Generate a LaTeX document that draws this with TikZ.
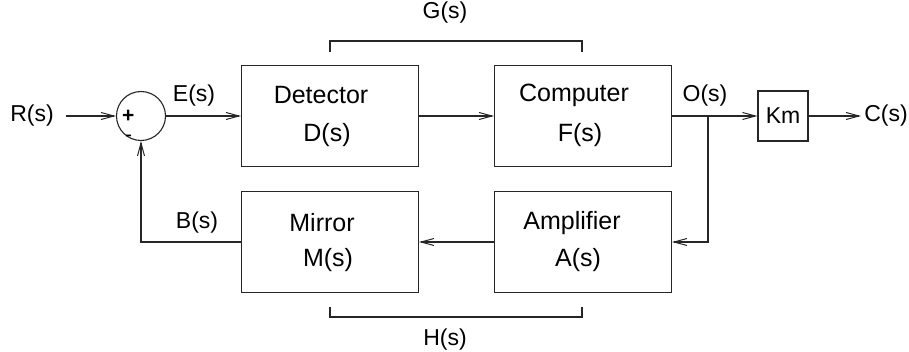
\documentclass[tikz,border=0pt]{standalone}
\usepackage{fontspec}
\setmainfont{Liberation Sans}
\usetikzlibrary{arrows.meta}
\begin{document}
\begin{tikzpicture}[x=1pt,y=-1pt,
  every node/.style={font=\fontsize{23}{27}\selectfont, inner sep=0pt},
  intext/.style={font=\fontsize{25}{29}\selectfont},
  line/.style={line width=1.1pt, draw=black!85},
  sig/.style={line, -{Straight Barb[length=13pt,width=7pt,line width=1pt]}},
  blk/.style={line, rectangle, minimum width=#1, minimum height=101pt},
  blk/.default=177pt]
\useasboundingbox (0,0) rectangle (909,352);

% blocks of the loop
\node[blk] (det) at (330,116) {};
\node[blk] (comp) at (583,116) {};
\node[blk] (mir) at (330,242) {};
\node[blk] (amp) at (583,242) {};
\node[line, rectangle, minimum width=50pt, minimum height=50pt] (km) at (783,116) {Km};

% text inside the blocks
\node[intext] (detA) at (321,95) {Detector};
\node[intext] (detB) at (327,135) {D(s)};
\node[intext] (compA) at (574,95) {Computer};
\node[intext] (compB) at (580,135) {F(s)};
\node[intext] (mirA) at (322,223) {Mirror};
\node[intext] (mirB) at (328,260) {M(s)};
\node[intext] (ampA) at (572,223) {Amplifier};
\node[intext] (ampB) at (578,260) {A(s)};

% summing junction with its signs
\node[line, circle, minimum size=49pt] (sum) at (141,116) {};
\node[anchor=west, align=left, font=\fontsize{21}{19}\selectfont] (signs) at (122,126)
  {\textbf{+}\\\hspace*{3pt}-};

% signal labels
\node (R) at (32,116) {R(s)};
\node (E) at (194,96) {E(s)};
\node (B) at (197,223) {B(s)};
\node (O) at (705,96) {O(s)};
\node (C) at (886,116) {C(s)};
\node (G) at (445,13) {G(s)};
\node (H) at (445,340) {H(s)};

\coordinate (rin) at (66,116);
\coordinate (cout) at (861,116);
\coordinate (tap) at (708,116);

% forward path
\draw[sig] (rin) -- (sum.west);
\draw[sig] (sum.east) -- (det.west);
\draw[sig] (det.east) -- (comp.west);
\draw[sig] (comp.east) -- (km.west);
\draw[sig] (km.east) -- (cout);

% feedback path
\draw[sig] (tap) |- (amp.east);
\draw[sig] (amp.west) -- (mir.east);
\draw[sig] (mir.west) -| (sum.south);

% brackets for G(s) and H(s)
\draw[line] (330,52) -- (330,41) -- (582,41) -- (582,52);
\draw[line] (330,307) -- (330,317) -- (582,317) -- (582,307);
\end{tikzpicture}
\end{document}
